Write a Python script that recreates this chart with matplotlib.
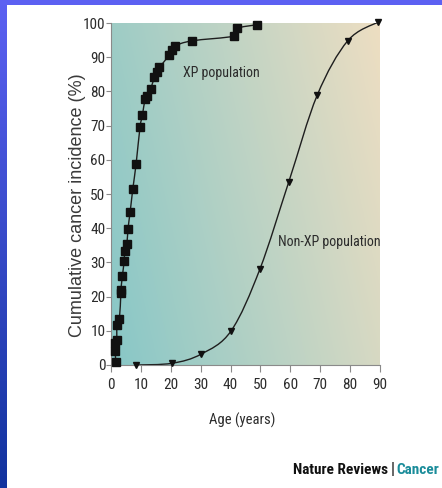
import numpy as np
import matplotlib
matplotlib.use("Agg")
import matplotlib.pyplot as plt
from matplotlib import font_manager
from matplotlib.path import Path
from matplotlib.patches import PathPatch

# XP population (age in years, cumulative incidence %)
xp_age = [1.6, 1.4, 1.4, 1.9, 2.0, 2.8, 3.3, 3.3, 3.8, 4.4, 4.6, 5.3, 5.7, 6.4, 7.3,
          8.4, 9.7, 10.5, 11.4, 12.2, 13.3, 14.5, 15.3, 16.2, 19.4, 20.5, 21.3,
          27.2, 41.3, 42.0, 48.9]
xp_pct = [1, 4, 6.3, 7.3, 11.6, 13.4, 21, 21.9, 26, 30.3, 33.2, 35.4, 39.9, 44.7, 51.5,
          58.8, 69.5, 73, 77.7, 78.8, 80.8, 84.1, 85.7, 87, 90.5, 92.1, 93.3,
          94.8, 96.2, 98.4, 99.5]

# non-XP population
nxp_age = [8.4, 20.4, 30.2, 40.2, 49.8, 59.5, 69.0, 79.2, 89.4]
nxp_pct = [0, 0.5, 3.2, 10, 28, 53.6, 78.9, 94.8, 100.3]

x_ticks = list(range(0, 91, 10))
y_ticks = list(range(0, 101, 10))

names = {f.name for f in font_manager.fontManager.ttflist}


def pick(cands):
    for c in cands:
        if c in names:
            return c
    return 'DejaVu Sans'


narrow = pick(["Roboto Condensed", "Archivo Narrow", "IBM Plex Sans Condensed", "Liberation Sans"])
narrow_bold = pick(["Roboto Condensed", "Barlow Semi Condensed", "IBM Plex Sans Condensed", "Liberation Sans"])
plt.rcParams['font.family'] = [narrow, 'DejaVu Sans']

txt = "#2b2b2b"
grey = "#8a8a8a"


def smooth_path(xs, ys):
    # catmull-rom through the points, drawn as cubic bezier segments
    p = np.column_stack([xs, ys]).astype(float)
    verts = [p[0]]
    codes = [Path.MOVETO]
    n = len(p)
    for i in range(n - 1):
        p0 = p[i - 1] if i > 0 else p[i]
        p1, p2 = p[i], p[i + 1]
        p3 = p[i + 2] if i + 2 < n else p[i + 1]
        c1 = p1 + (p2 - p0) / 6.0
        c2 = p2 - (p3 - p1) / 6.0
        verts += [c1, c2, p2]
        codes += [Path.CURVE4] * 3
    return Path(verts, codes)


fig = plt.figure(figsize=(4.42, 4.88), dpi=100)

# blue frame on the left and top
bg = fig.add_axes([0, 0, 1, 1], zorder=-5)
bg.axis('off')
bg.set_xlim(0, 442)
bg.set_ylim(488, 0)
col = np.linspace(0, 1, 256)[:, None]
blue = np.zeros((256, 1, 3))
top_c = np.array([0.36, 0.38, 0.95])
bot_c = np.array([0.07, 0.20, 0.62])
blue[:, 0, :] = top_c * (1 - col) + bot_c * col
bg.imshow(blue, extent=[0, 7, 488, 0], aspect='auto')
bg.add_patch(plt.Rectangle((0, 0), 442, 5, color=top_c, lw=0))

ax = fig.add_axes([111 / 442, 1 - 365 / 488, 269 / 442, 342 / 488])

# background gradient of the plot area
gx, gy = np.meshgrid(np.linspace(0, 1, 200), np.linspace(0, 1, 200))
t = 0.78 * gx + 0.22 * gy
c0 = np.array([0.53, 0.78, 0.78])
c1 = np.array([0.93, 0.87, 0.76])
grad = c0 * (1 - t[..., None]) + c1 * t[..., None]
ax.imshow(grad, extent=[0, 90, 0, 100], origin='lower', aspect='auto', zorder=0)

ax.add_patch(PathPatch(smooth_path(xp_age, xp_pct), fill=False, lw=1.0,
                       edgecolor='#1e1e1e', zorder=2))
ax.add_patch(PathPatch(smooth_path(nxp_age, nxp_pct), fill=False, lw=1.0,
                       edgecolor='#1e1e1e', zorder=2))
ax.plot(xp_age, xp_pct, ls='none', marker='s', ms=5.2, color='#111111',
        zorder=3, clip_on=False)
ax.plot(nxp_age, nxp_pct, ls='none', marker='v', ms=5, color='#111111',
        zorder=3, clip_on=False)

ax.set_xlim(0, 90)
ax.set_ylim(0, 100)
ax.set_xticks(x_ticks)
ax.set_yticks(y_ticks)
ax.tick_params(axis='both', colors=grey, labelcolor=txt, labelsize=11,
               width=0.8, length=3.5)
ax.tick_params(axis='y', pad=0.5)
ax.tick_params(axis='x', pad=4.5, length=5)
for s in ['top', 'right']:
    ax.spines[s].set_visible(False)
for s in ['left', 'bottom']:
    ax.spines[s].set_color(grey)
    ax.spines[s].set_linewidth(0.8)

ax.text(24.2, 85.5, "XP population", fontsize=10, color=txt, va='center')
ax.text(55.8, 36, "Non-XP population", fontsize=10, color=txt, va='center')

fig.text(78 / 442, 1 - 205 / 488, "Cumulative cancer incidence (%)", rotation=90,
         ha='center', va='center', fontsize=13, color='#3a3a3a',
         family=['Liberation Sans', 'DejaVu Sans'])
fig.text(242 / 442, 1 - 420 / 488, "Age (years)", ha='center', va='center',
         fontsize=10.5, color=txt)

# journal credit, laid out piece by piece so nothing overlaps
y_cr = 1 - 470 / 488
t_cancer = fig.text(439 / 442, y_cr, "Cancer", ha='right', va='center',
                    fontsize=11, fontweight='bold', color='#1a8c9a',
                    family=[narrow_bold, 'DejaVu Sans'])
r = fig.canvas.get_renderer()
x0 = t_cancer.get_window_extent(r).x0
t_bar = fig.text((x0 - 2) / 442, y_cr, "|", ha='right', va='center',
                 fontsize=12, color='#111111')
x1 = t_bar.get_window_extent(r).x0
fig.text((x1 - 2) / 442, y_cr, "Nature Reviews", ha='right', va='center',
         fontsize=11, fontweight='bold', color='#111111',
         family=[narrow_bold, 'DejaVu Sans'])

fig.savefig("out.png", dpi=100, facecolor='white')
